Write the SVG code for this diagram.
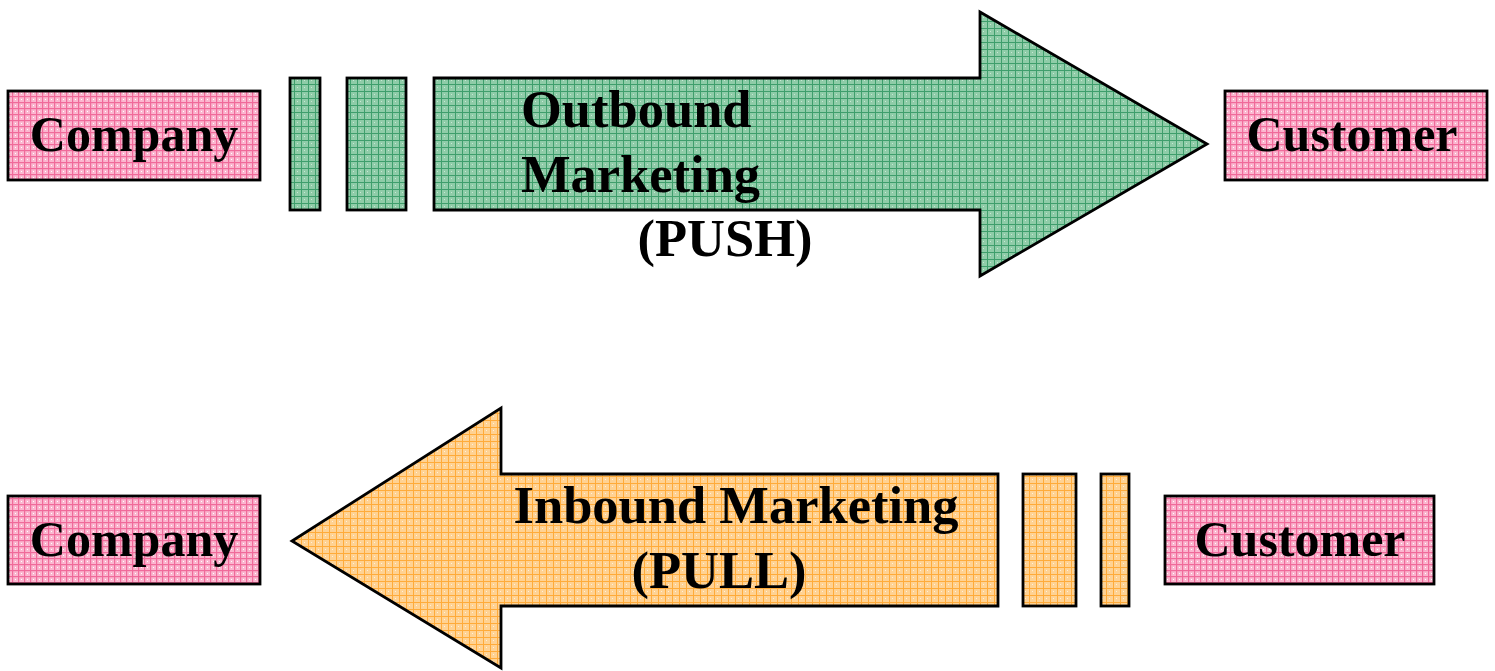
<svg xmlns="http://www.w3.org/2000/svg" width="1495" height="671" viewBox="0 0 1495 671">
<defs>
<pattern id="pinkP" width="6" height="6" patternUnits="userSpaceOnUse">
<rect width="6" height="6" fill="#fbb6cf"/>
<rect x="0" y="0" width="6" height="1.2" fill="#f06a9a"/>
<rect x="0" y="0" width="1.2" height="6" fill="#f06a9a"/>
<rect x="3" y="3" width="1" height="1" fill="#ffffff"/>
</pattern>
<pattern id="greenP" width="7" height="7" patternUnits="userSpaceOnUse">
<rect width="7" height="7" fill="#8fcca8"/>
<rect x="0" y="0" width="7" height="1" fill="#3f9e6c"/>
<rect x="0" y="0" width="1" height="7" fill="#3f9e6c"/>
<rect x="3" y="3" width="1" height="1" fill="#c8e8d4"/>
</pattern>
<pattern id="orangeP" width="7" height="7" patternUnits="userSpaceOnUse">
<rect width="7" height="7" fill="#ffd293"/>
<rect x="0" y="0" width="7" height="1" fill="#ffab3a"/>
<rect x="0" y="0" width="1" height="7" fill="#ffab3a"/>
<rect x="3" y="3" width="1" height="1" fill="#fff0d8"/>
</pattern>
</defs>
<style>
.box{fill:url(#pinkP);stroke:#000;stroke-width:2.8}
.grn{fill:url(#greenP);stroke:#000;stroke-width:2.8;stroke-linejoin:miter}
.org{fill:url(#orangeP);stroke:#000;stroke-width:2.8;stroke-linejoin:miter}
.t{font-family:"Liberation Serif","Times New Roman",serif;font-weight:bold;font-size:50px;fill:#000}
.a{font-size:52.5px}
</style>
<g id="company-top">
<rect class="box" x="8" y="91" width="252" height="89"/>
<text class="t" x="134" y="151" text-anchor="middle">Company</text>
</g>
<g id="customer-top">
<rect class="box" x="1225" y="91" width="262" height="89"/>
<text class="t" x="1352" y="151" text-anchor="middle">Customer</text>
</g>
<g id="company-bottom">
<rect class="box" x="8" y="496" width="252" height="88"/>
<text class="t" x="134" y="556" text-anchor="middle">Company</text>
</g>
<g id="customer-bottom">
<rect class="box" x="1165" y="496" width="269" height="88"/>
<text class="t" x="1300" y="556" text-anchor="middle">Customer</text>
</g>
<g id="connectors">
<g id="outbound-push">
<rect class="grn" x="290" y="78" width="30" height="132"/>
<rect class="grn" x="347" y="78" width="59" height="132"/>
<polygon class="grn" points="434,78 980,78 980,12 1207,144 980,276 980,210 434,210"/>
<text class="t a" x="521" y="127">Outbound</text>
<text class="t a" x="521" y="192">Marketing</text>
<text class="t a" x="725" y="256" text-anchor="middle">(PUSH)</text>
</g>
<g id="inbound-pull">
<polygon class="org" points="998,474 501,474 501,408 292,541 501,668 501,606 998,606"/>
<rect class="org" x="1023" y="474" width="53" height="132"/>
<rect class="org" x="1101" y="474" width="28" height="132"/>
<text class="t a" x="736" y="523" text-anchor="middle">Inbound Marketing</text>
<text class="t a" x="719" y="588" text-anchor="middle">(PULL)</text>
</g>
</g>
</svg>
